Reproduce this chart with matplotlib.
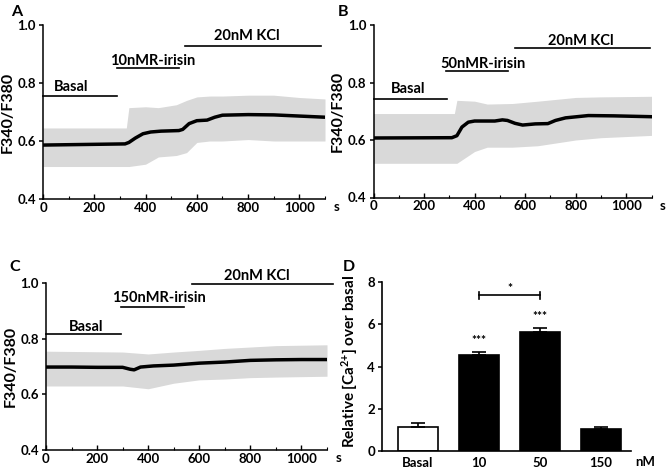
import matplotlib
matplotlib.use("Agg")
import matplotlib.pyplot as plt
from matplotlib.ticker import MultipleLocator

plt.rcParams['font.family'] = ['Lato', 'DejaVu Sans']
plt.rcParams['font.weight'] = 'bold'
plt.rcParams['mathtext.fontset'] = 'custom'
plt.rcParams['mathtext.rm'] = 'Lato:bold'
plt.rcParams['mathtext.bf'] = 'Lato:bold'
plt.rcParams['mathtext.default'] = 'rm'

# ---------------- data ----------------
# Panel A (10 nM R-irisin)
A_t = [0, 320, 335, 360, 390, 420, 460, 530, 545, 570, 600, 640, 670, 700, 800, 900, 1000, 1100]
A_mean = [0.586, 0.590, 0.595, 0.610, 0.625, 0.631, 0.634, 0.636, 0.640, 0.660, 0.670, 0.672, 0.682, 0.689, 0.691, 0.690, 0.686, 0.682]
A_env_t = [0, 325, 335, 400, 450, 520, 560, 600, 650, 700, 800, 900, 1000, 1100]
A_upper = [0.645, 0.645, 0.715, 0.718, 0.715, 0.725, 0.740, 0.752, 0.755, 0.755, 0.758, 0.758, 0.750, 0.745]
A_lower = [0.512, 0.512, 0.512, 0.520, 0.545, 0.550, 0.560, 0.595, 0.600, 0.600, 0.605, 0.600, 0.600, 0.600]

# Panel B (50 nM R-irisin)
B_t = [0, 310, 330, 350, 375, 400, 480, 510, 530, 560, 590, 640, 690, 720, 760, 850, 950, 1100]
B_mean = [0.607, 0.608, 0.615, 0.645, 0.662, 0.666, 0.666, 0.670, 0.668, 0.658, 0.652, 0.656, 0.657, 0.668, 0.677, 0.685, 0.684, 0.681]
B_env_t = [0, 320, 330, 400, 450, 550, 650, 800, 900, 1100]
B_upper = [0.692, 0.692, 0.738, 0.735, 0.725, 0.727, 0.735, 0.748, 0.750, 0.752]
B_lower = [0.519, 0.519, 0.519, 0.560, 0.575, 0.575, 0.580, 0.600, 0.608, 0.616]

# Panel C (150 nM R-irisin)
C_t = [0, 100, 200, 300, 330, 345, 370, 420, 500, 600, 700, 800, 900, 1000, 1100]
C_mean = [0.698, 0.698, 0.697, 0.697, 0.690, 0.688, 0.698, 0.702, 0.705, 0.712, 0.716, 0.722, 0.724, 0.725, 0.725]
C_env_t = [0, 300, 400, 500, 600, 700, 800, 900, 1100]
C_upper = [0.755, 0.752, 0.745, 0.752, 0.758, 0.765, 0.770, 0.775, 0.778]
C_lower = [0.630, 0.630, 0.620, 0.640, 0.652, 0.655, 0.660, 0.662, 0.665]

# Treatment bars: (label, start, end, level, label-center t, label y)
A_stim = [("Basal", 0, 288, 0.754, 110, 0.785),
          ("10nMR-irisin", 288, 531, 0.851, 428, 0.877),
          ("20nM KCl", 552, 1085, 0.929, 796, 0.963)]
B_stim = [("Basal", 0, 290, 0.744, 138, 0.776),
          ("50nMR-irisin", 288, 533, 0.839, 435, 0.865),
          ("20nM KCl", 559, 1094, 0.919, 820, 0.946)]
C_stim = [("Basal", 0, 292, 0.815, 156, 0.843),
          ("150nMR-irisin", 295, 542, 0.914, 441, 0.946),
          ("20nM KCl", 571, 1123, 0.998, 826, 1.024)]

# Panel D
D_cats = ["Basal", "10", "50", "150"]
D_vals = [1.15, 4.53, 5.64, 1.04]
D_errs = [0.16, 0.16, 0.20, 0.11]
D_sig = ["", "***", "***", ""]

W, H = 666, 472
fig = plt.figure(figsize=(W / 100, H / 100), dpi=100)

TICK_FS = 9.5


def px_axes(l, r, b, t):
    return fig.add_axes([l / W, 1 - b / H, (r - l) / W, (b - t) / H])


def trace_panel(ax, t, mean, et, up, lo, stim):
    ax.fill_between(et, lo, up, color='#d9d9d9', lw=0, zorder=1)
    ax.plot(t, mean, color='black', lw=2.5, zorder=3)
    ax.set_xlim(0, 1100)
    ax.set_ylim(0.4, 1.0)
    ax.set_yticks([0.4, 0.6, 0.8, 1.0])
    ax.set_yticklabels(['0.4', '0.6', '0.8', '1.0'])
    ax.set_xticks([0, 200, 400, 600, 800, 1000])
    ax.xaxis.set_minor_locator(MultipleLocator(100))
    for s in ['top', 'right']:
        ax.spines[s].set_visible(False)
    for s in ['left', 'bottom']:
        ax.spines[s].set_linewidth(1.1)
    ax.tick_params(axis='y', direction='out', length=3, width=1.1, labelsize=TICK_FS, pad=2)
    ax.tick_params(axis='x', which='major', direction='in', length=3.5, width=1.0, labelsize=TICK_FS, pad=2)
    ax.tick_params(axis='x', which='minor', direction='in', length=2, width=0.8)
    for lab in ax.get_xticklabels() + ax.get_yticklabels():
        lab.set_fontweight('bold')
    ax.set_ylabel('F340/F380', fontsize=11.5, fontweight='bold', labelpad=2)
    for name, x0, x1, y, tx, ty in stim:
        ax.plot([x0, x1], [y, y], color='black', lw=1.2, clip_on=False, zorder=4)
        ax.text(tx, ty, name, ha='center', va='center', fontsize=10.5, fontweight='bold', clip_on=False)
    ax.text(1.03, -0.047, 's', transform=ax.transAxes, ha='left', va='center',
            fontsize=TICK_FS, fontweight='bold')


axA = px_axes(43, 325, 199, 25)
trace_panel(axA, A_t, A_mean, A_env_t, A_upper, A_lower, A_stim)
axB = px_axes(373.5, 651.5, 197.5, 25)
trace_panel(axB, B_t, B_mean, B_env_t, B_upper, B_lower, B_stim)
axC = px_axes(46, 327, 450, 283)
trace_panel(axC, C_t, C_mean, C_env_t, C_upper, C_lower, C_stim)

# Panel D
axD = px_axes(382, 631, 451, 282.3)
xs = list(range(len(D_cats)))
colors = ['white', 'black', 'black', 'black']
axD.bar(xs, D_vals, width=0.66, color=colors, edgecolor='black', linewidth=1.2, zorder=2)
axD.errorbar(xs, D_vals, yerr=[[0] * 4, D_errs], fmt='none', ecolor='black', elinewidth=1.2,
             capsize=5, capthick=1.2, zorder=3)
for x, v, e, s in zip(xs, D_vals, D_errs, D_sig):
    if s:
        axD.text(x, v + e + 0.28, s, ha='center', va='bottom', fontsize=8.5, fontweight='bold')
axD.plot([1, 2], [7.39, 7.39], color='black', lw=1.2)
axD.plot([1, 1], [7.22, 7.56], color='black', lw=1.2)
axD.plot([2, 2], [7.22, 7.56], color='black', lw=1.2)
axD.text(1.5, 7.45, '*', ha='center', va='bottom', fontsize=8.5, fontweight='bold')
axD.set_xlim(-0.59, 3.49)
axD.set_ylim(0, 8)
axD.set_yticks([0, 2, 4, 6, 8])
axD.set_xticks(xs)
axD.set_xticklabels(D_cats)
for s in ['top', 'right']:
    axD.spines[s].set_visible(False)
for s in ['left', 'bottom']:
    axD.spines[s].set_linewidth(1.2)
axD.tick_params(axis='y', direction='out', length=3, width=1.1, labelsize=TICK_FS, pad=2)
axD.tick_params(axis='x', length=0, labelsize=TICK_FS, pad=4)
for lab in axD.get_xticklabels() + axD.get_yticklabels():
    lab.set_fontweight('bold')
axD.set_ylabel('Relative [Ca$^{2{+}}$] over basal', fontsize=11, fontweight='bold')
axD.yaxis.set_label_coords(-0.088, 0.53)
axD.text(3.72, -0.063, 'nM', transform=axD.get_xaxis_transform(), ha='center', va='center',
         fontsize=TICK_FS, fontweight='bold')

# Panel letters
for letter, x, y in [('A', 17, 12), ('B', 343, 12), ('C', 15, 267), ('D', 349, 267)]:
    fig.text(x / W, 1 - y / H, letter, ha='center', va='center', fontsize=11.5, fontweight='bold')

fig.savefig('out.png', dpi=100)
